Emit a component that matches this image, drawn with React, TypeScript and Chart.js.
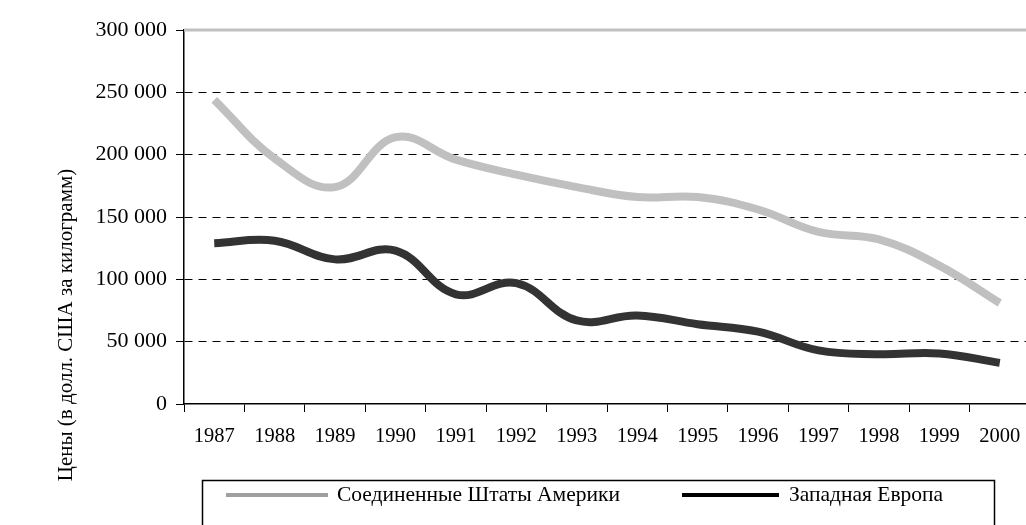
import React, { useEffect, useRef } from 'react';
import { Chart, registerables } from 'chart.js';

Chart.register(...registerables);

// ---- Data ----
const years = ['1987', '1988', '1989', '1990', '1991', '1992', '1993', '1994', '1995', '1996', '1997', '1998', '1999', '2000'];
const usPrices = [244000, 197000, 174000, 214000, 196000, 184000, 174000, 166000, 166000, 156000, 138000, 132000, 111000, 81000];
const wePrices = [129000, 131000, 116000, 123000, 88000, 97000, 67000, 71000, 64000, 58000, 43000, 40000, 40500, 33000];
const seriesNames = ['Соединенные Штаты Америки', 'Западная Европа'];
const yTickValues = [0, 50000, 100000, 150000, 200000, 250000, 300000];
const yAxisTitle = 'Цены (в долл. США за килограмм)';

// ---- Styles ----
const FONT = "'Liberation Serif', 'Times New Roman', Times, serif";
const lineColors = ['#c0c0c0', '#333333'];
const legendColors = ['#a0a0a0', '#000000'];

function formatThousands(v: number): string {
  if (v === 0) return '0';
  return String(v).replace(/\B(?=(\d{3})+(?!\d))/g, ' ');
}

const decorPlugin = {
  id: 'decor',
  beforeDatasetsDraw(chart: any) {
    const { ctx, chartArea, scales } = chart;
    const y = scales.y.getPixelForValue(300000);
    ctx.save();
    ctx.strokeStyle = '#c0c0c0';
    ctx.lineWidth = 3;
    ctx.beginPath();
    ctx.moveTo(chartArea.left, y);
    ctx.lineTo(chart.width, y);
    ctx.stroke();
    ctx.restore();
  },
  afterDraw(chart: any) {
    const { ctx } = chart;
    ctx.save();
    // Y axis title
    ctx.translate(66, 325);
    ctx.rotate(-Math.PI / 2);
    ctx.font = `21px ${FONT}`;
    ctx.fillStyle = '#000';
    ctx.textAlign = 'center';
    ctx.textBaseline = 'middle';
    ctx.fillText(yAxisTitle, 0, 0);
    ctx.restore();

    // Legend box
    ctx.save();
    ctx.strokeStyle = '#000';
    ctx.lineWidth = 1.5;
    ctx.strokeRect(202.5, 480.5, 792, 80);
    const items = [
      { x1: 226, x2: 328, tx: 337 },
      { x1: 682, x2: 779, tx: 789 },
    ];
    chart.data.datasets.forEach((ds: any, i: number) => {
      const it = items[i];
      const y = 495;
      ctx.strokeStyle = legendColors[i];
      ctx.lineWidth = 4;
      ctx.beginPath();
      ctx.moveTo(it.x1, y);
      ctx.lineTo(it.x2, y);
      ctx.stroke();
      ctx.font = `21.5px ${FONT}`;
      ctx.fillStyle = '#000';
      ctx.textAlign = 'left';
      ctx.textBaseline = 'middle';
      ctx.fillText(ds.label, it.tx, y);
    });
    ctx.restore();
  },
};

export default function App() {
  const canvasRef = useRef<HTMLCanvasElement | null>(null);

  useEffect(() => {
    const canvas = canvasRef.current;
    if (!canvas) return;
    const chart = new Chart(canvas, {
      type: 'line',
      data: {
        labels: years,
        datasets: [
          {
            label: seriesNames[0],
            data: usPrices,
            borderColor: lineColors[0],
            backgroundColor: lineColors[0],
            borderWidth: 8,
            pointRadius: 0,
            tension: 0.4,
            fill: false,
          },
          {
            label: seriesNames[1],
            data: wePrices,
            borderColor: lineColors[1],
            backgroundColor: lineColors[1],
            borderWidth: 8,
            pointRadius: 0,
            tension: 0.4,
            fill: false,
          },
        ],
      },
      options: {
        responsive: false,
        animation: false,
        devicePixelRatio: 1,
        layout: { padding: { left: 0, right: 10, top: 30, bottom: 0 } },
        plugins: {
          legend: { display: false },
          title: { display: false },
          tooltip: { enabled: false },
        },
        scales: {
          x: {
            type: 'category',
            offset: true,
            grid: {
              offset: true,
              drawOnChartArea: false,
              drawTicks: true,
              tickLength: 8,
              tickColor: '#000',
              tickWidth: 1,
            },
            border: { color: '#000', width: 1.5 },
            ticks: {
              color: '#000',
              font: { family: FONT, size: 20.5 },
              padding: 12,
              maxRotation: 0,
              autoSkip: false,
            },
            afterFit(scale: any) {
              scale.height = 121;
            },
          },
          y: {
            min: 0,
            max: 300000,
            afterBuildTicks(scale: any) {
              scale.ticks = yTickValues.map((v) => ({ value: v }));
            },
            grid: {
              color: (c: any) =>
                c.tick && (c.tick.value === 0 || c.tick.value === 300000) ? 'rgba(0,0,0,0)' : '#000',
              lineWidth: 1,
              drawTicks: true,
              tickLength: 8,
              tickColor: '#000',
              tickWidth: 1,
            },
            border: { color: '#000', width: 1.5, dash: [8, 6] },
            ticks: {
              color: '#000',
              font: { family: FONT, size: 22 },
              padding: 9,
              callback: (v: any) => formatThousands(Number(v)),
            },
            afterFit(scale: any) {
              scale.width = 184;
            },
          },
        },
      },
      plugins: [decorPlugin],
    });
    return () => chart.destroy();
  }, []);

  return (
    <div
      style={{
        position: 'fixed',
        left: 0,
        top: 0,
        width: 1026,
        height: 525,
        overflow: 'hidden',
        background: '#fff',
      }}
    >
      <canvas ref={canvasRef} width={1040} height={525} style={{ display: 'block' }} />
    </div>
  );
}
